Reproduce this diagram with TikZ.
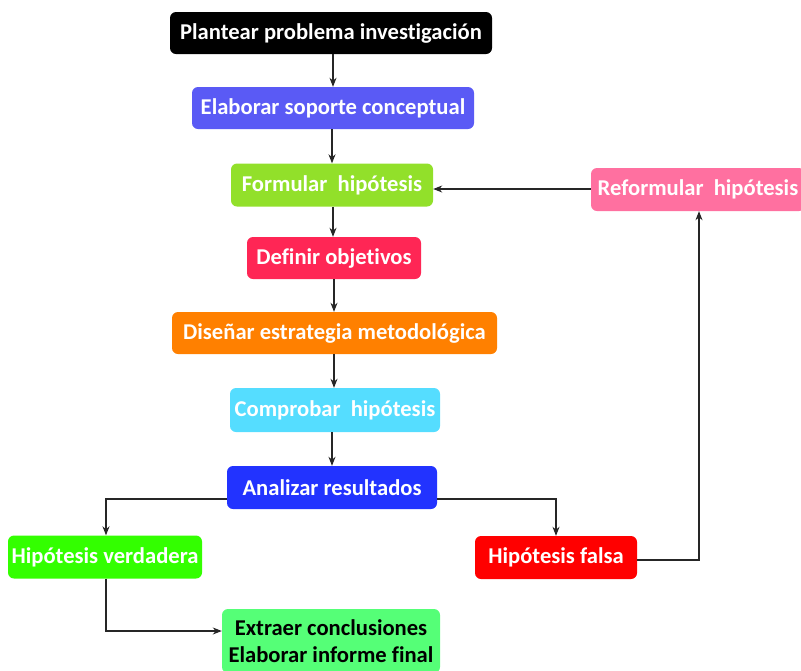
\documentclass[tikz,border=0pt]{standalone}
\usepackage{fontspec}
\setmainfont[Ligatures={NoCommon,NoContextual}]{Carlito}
\usetikzlibrary{arrows.meta}
\newcommand\zkern{\kern0pt }
\definecolor{c1}{RGB}{0,0,0}
\definecolor{c2}{RGB}{90,90,245}
\definecolor{c3}{RGB}{146,224,42}
\definecolor{c4}{RGB}{255,38,85}
\definecolor{c5}{RGB}{255,128,0}
\definecolor{c6}{RGB}{85,221,255}
\definecolor{c7}{RGB}{34,51,255}
\definecolor{c8}{RGB}{51,255,0}
\definecolor{c9}{RGB}{255,0,0}
\definecolor{c10}{RGB}{85,255,119}
\definecolor{c11}{RGB}{255,112,160}
\tikzset{
  stepbox/.style={rounded corners=6pt, inner sep=0pt, align=center,
    font=\fontsize{22.6}{27}\selectfont\bfseries, text=white},
  conn/.style={draw=black!85, line width=1.1pt, -{Stealth[length=9pt,width=7pt]}}
}
\begin{document}
\begin{tikzpicture}[x=1pt,y=-1pt]
\useasboundingbox (0,0) rectangle (801,670);
\node[stepbox, fill=c1, minimum width=322, minimum height=42] (n1) at (331,33) {Plantear problema invest\zkern igación};
\node[stepbox, fill=c2, minimum width=282, minimum height=42] (n2) at (333,108) {Elaborar soporte conceptual};
\node[stepbox, fill=c3, minimum width=202, minimum height=43] (n3) at (332,185) {Formular\ \ hipótesis};
\node[stepbox, fill=c4, minimum width=174, minimum height=42] (n4) at (334,258) {Def\zkern inir objet\zkern ivos};
\node[stepbox, fill=c5, minimum width=325, minimum height=42] (n5) at (334.5,333) {Diseñar estrategia metodológica};
\node[stepbox, fill=c6, minimum width=210, minimum height=44] (n6) at (335,410) {Comprobar\ \ hipótesis};
\node[stepbox, fill=c7, minimum width=210, minimum height=43] (n7) at (332,487.5) {Analizar resultados};
\node[stepbox, fill=c8, minimum width=194, minimum height=43] (n8) at (105,557) {Hipótesis verdadera};
\node[stepbox, fill=c9, minimum width=162, minimum height=43] (n9) at (556,557.5) {Hipótesis falsa};
\node[stepbox, fill=c10, text=black, minimum width=218, minimum height=64] (n10) at (331,641) {Extraer conclusiones\\Elaborar informe f\zkern inal};
\node[stepbox, fill=c11, minimum width=214, minimum height=43] (n11) at (698,189.5) {Reformular\ \ hipótesis};

\draw[conn] (n1.south -| 333,0) -- (n2.north -| 333,0);
\draw[conn] (n2.south -| 332,0) -- (n3.north -| 332,0);
\draw[conn] (n3.south -| 333,0) -- (n4.north -| 333,0);
\draw[conn] (n4.south -| 334,0) -- (n5.north -| 334,0);
\draw[conn] (n5.south -| 334,0) -- (n6.north -| 334,0);
\draw[conn] (n6.south -| 332,0) -- (n7.north -| 332,0);
\draw[conn] (n7.west |- 0,499) -| (n8.north -| 106,0);
\draw[conn] (n7.east |- 0,499) -| (n9.north -| 556,0);
\draw[conn] (n8.south -| 106,0) |- (n10.west |- 0,631);
\draw[conn] (n9.east |- 0,560) -| (n11.south -| 699,0);
\draw[conn] (n11.west |- 0,189) -- (n3.east |- 0,189);
\end{tikzpicture}
\end{document}
